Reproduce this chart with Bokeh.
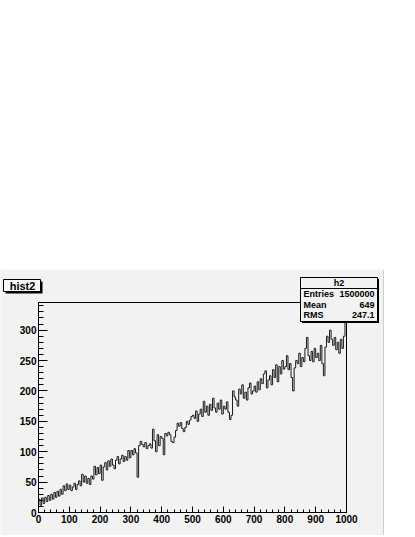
import numpy as np
from bokeh.plotting import figure
from bokeh.models import SingleIntervalTicker, BoxAnnotation, Label, Range1d, Spacer
from bokeh.layouts import column
from bokeh.embed import file_html
from bokeh.resources import INLINE

# ---- data ----
hist_title = "hist2"
x_low, x_high = 0, 1000
y_top = 345.5
counts = [
    22, 12, 24, 15, 25, 18, 28, 20, 30, 22, 33, 25, 35, 27, 38, 30, 44, 36, 47, 38,
    45, 36, 42, 48, 38, 46, 52, 44, 63, 50, 60, 48, 56, 46, 60, 55, 76, 62, 74, 64,
    78, 53, 75, 82, 70, 85, 76, 88, 78, 72, 86, 92, 80, 88, 94, 84, 92, 86, 102, 90,
    102, 95, 105, 98, 58, 110, 117, 112, 108, 115, 105, 110, 113, 106, 137, 118, 100, 128, 110, 125,
    122, 95, 130, 126, 132, 128, 117, 115, 124, 135, 147, 142, 148, 138, 133, 140, 150, 145, 152, 158,
    160, 155, 167, 150, 162, 170, 158, 183, 165, 175, 160, 178, 168, 188, 172, 165, 180, 170, 185, 162,
    175, 170, 182, 165, 153, 160, 200, 190, 185, 175, 203, 195, 210, 188, 198, 185, 205, 213, 195, 200,
    208, 198, 215, 202, 220, 212, 228, 233, 205, 218, 225, 210, 235, 222, 243, 215, 240, 228, 250, 236,
    240, 258, 235, 245, 222, 200, 238, 250, 245, 262, 240, 255, 248, 270, 288, 258, 250, 265, 248, 270,
    255, 262, 250, 275, 245, 225, 272, 290, 280, 300, 285, 275, 288, 268, 280, 262, 285, 270, 290, 329,
]
stats_title = "h2"
stats_names = ["Entries", "Mean", "RMS"]
stats_values = ["1500000", "649", "247.1"]

# ---- layout (pixels) ----
CANVAS_TOP = 269          # page y where the grey canvas begins
W, H = 384, 266           # canvas size
FR_L, FR_R = 38, 346      # frame left/right (page x)
FR_T, FR_B = 302, 512     # frame top/bottom (page y)

kx = (x_high - x_low) / (FR_R - FR_L)
ky = y_top / (FR_B - FR_T)
x_range = Range1d(x_low - FR_L * kx, x_high + (W - FR_R) * kx)
y_range = Range1d(-(CANVAS_TOP + H - FR_B) * ky, y_top + (FR_T - CANVAS_TOP) * ky)

# ---- histogram outline from the bins ----
edges = np.linspace(x_low, x_high, len(counts) + 1)
xs = np.repeat(edges, 2)
ys = np.concatenate([[0], np.repeat(np.array(counts, dtype=float), 2), [0]])

BG = "#f2f2f2"
FONT = "Liberation Sans"

p = figure(width=W, height=H, output_backend="svg", toolbar_location=None,
           x_range=x_range, y_range=y_range,
           min_border=0, min_border_left=0, min_border_right=0,
           min_border_top=0, min_border_bottom=0)
p.background_fill_color = BG
p.border_fill_color = BG
p.outline_line_color = None
p.grid.visible = False

p.line(xs, ys, line_color="#1a1a1a", line_width=1)

# frame box (top/right edges) in data units
p.add_layout(BoxAnnotation(left=x_low, right=x_high, bottom=0, top=y_top,
                           fill_alpha=0, line_color="black", line_width=1, line_alpha=1))

# axes placed at the frame edges
p.xaxis.fixed_location = 0
p.yaxis.fixed_location = x_low
p.xaxis.bounds = (x_low, x_high)
p.yaxis.bounds = (0, y_top)
p.xaxis.ticker = SingleIntervalTicker(interval=100, num_minor_ticks=5)
p.yaxis.ticker = SingleIntervalTicker(interval=50, num_minor_ticks=5)
for ax in (p.xaxis[0], p.yaxis[0]):
    ax.axis_line_color = "black"
    ax.major_tick_line_color = "black"
    ax.minor_tick_line_color = "black"
    ax.major_tick_out = 0
    ax.minor_tick_out = 0
    ax.major_label_text_font = FONT
    ax.major_label_text_font_style = "bold"
    ax.major_label_text_font_size = "10px"
    ax.major_label_text_color = "black"
    ax.major_label_standoff = 2
p.xaxis.major_tick_in = 6
p.xaxis.minor_tick_in = 3
p.yaxis.major_tick_in = 9
p.yaxis.minor_tick_in = 5

BOTTOM = CANVAS_TOP + H


def sy(page_y):
    return BOTTOM - page_y


def box(l, r, t, b, fill, line=None):
    return BoxAnnotation(left=l, right=r, top=sy(t), bottom=sy(b),
                         left_units="screen", right_units="screen",
                         top_units="screen", bottom_units="screen",
                         fill_color=fill, fill_alpha=1.0,
                         line_color=line if line else "black",
                         line_alpha=1.0 if line else 0.0, line_width=1)


def text(x, y, s, size, align):
    return Label(x=x, y=sy(y), x_units="screen", y_units="screen", text=s,
                 text_font=FONT, text_font_style="bold", text_font_size=size,
                 text_align=align, text_baseline="middle", text_color="black")


# canvas right edge bevel
p.add_layout(box(W - 1.5, W, CANVAS_TOP, BOTTOM, "#cfcfcf"))

# title pave
p.add_layout(box(5, 42, 281, 293, "black"))
p.add_layout(box(3, 40, 279, 291, "#f7f7f7", "black"))
p.add_layout(text(22, 285, hist_title, "11px", "center"))

# stats pave
p.add_layout(box(301.5, 378.5, 278.5, 322.5, "black"))
p.add_layout(box(300, 377, 277, 321, BG, "black"))
p.add_layout(box(300, 377, 287.5, 288.5, "black"))
p.add_layout(text(338.5, 282.5, stats_title, "9px", "center"))
for name, val, yy in zip(stats_names, stats_values, [293.5, 304, 314.5]):
    p.add_layout(text(303, yy, name, "9px", "left"))
    p.add_layout(text(374, yy, val, "9px", "right"))

layout = column(Spacer(width=W, height=CANVAS_TOP), p)
open("out.html", "w").write(file_html(layout, INLINE))
